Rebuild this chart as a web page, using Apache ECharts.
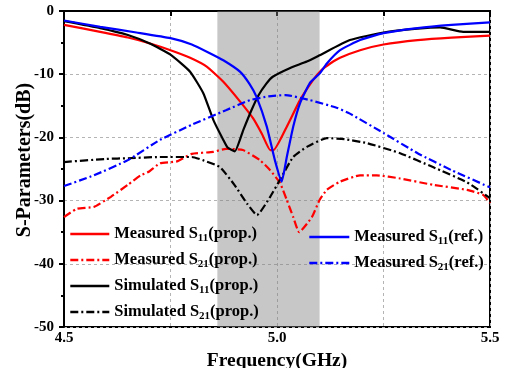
<!DOCTYPE html>
<html>
<head>
<meta charset="utf-8">
<script src="https://cdn.jsdelivr.net/npm/echarts@6/dist/echarts.min.js"></script>
<style>
  html, body { margin: 0; padding: 0; background: #fff; }
  #chart { width: 510px; height: 368px; }
</style>
</head>
<body>
<div id="chart"></div>
<script>
// Measured S11 of the proposed design
const freqMeasS11Prop = [4.50, 4.585, 4.65, 4.70, 4.75, 4.796, 4.835, 4.874, 4.913, 4.944, 4.965, 4.984, 4.992, 5.023, 5.054, 5.085, 5.105, 5.125, 5.148, 5.195, 5.25, 5.33, 5.41, 5.50];
const valMeasS11Prop  = [-2.2, -3.3, -4.2, -5.1, -6.2, -7.4, -8.8, -11.2, -14.3, -17.0, -19.5, -22.0, -22.0, -18.3, -14.1, -10.9, -9.3, -8.3, -7.4, -6.2, -5.3, -4.6, -4.2, -3.9];

// Measured S21 of the proposed design
const freqMeasS21Prop = [4.50, 4.53, 4.57, 4.61, 4.65, 4.68, 4.70, 4.725, 4.765, 4.80, 4.85, 4.88, 4.92, 4.96, 4.984, 5.007, 5.023, 5.038, 5.052, 5.082, 5.10, 5.117, 5.148, 5.195, 5.234, 5.289, 5.366, 5.446, 5.484, 5.50];
const valMeasS21Prop  = [-32.6, -31.3, -31.0, -29.4, -27.5, -26.0, -25.4, -24.1, -23.8, -22.6, -22.3, -21.8, -22.0, -23.6, -25.2, -27.2, -29.9, -32.6, -35.0, -32.6, -29.9, -28.3, -27.0, -26.0, -26.0, -26.5, -27.5, -28.3, -29.1, -30.4];

// Simulated S11 of the proposed design
const freqSimS11Prop = [4.50, 4.585, 4.65, 4.70, 4.75, 4.796, 4.827, 4.851, 4.874, 4.884, 4.901, 4.921, 4.94, 4.956, 4.975, 4.99, 5.031, 5.07, 5.10, 5.171, 5.25, 5.33, 5.383, 5.437, 5.50];
const valSimS11Prop  = [-1.6, -2.7, -3.8, -5.1, -6.9, -9.6, -13.0, -17.3, -20.4, -21.6, -22.2, -18.8, -15.7, -13.4, -11.5, -10.4, -9.0, -8.0, -7.0, -4.6, -3.4, -2.8, -2.6, -3.3, -3.3];

// Simulated S21 of the proposed design
const freqSimS21Prop = [4.50, 4.60, 4.65, 4.725, 4.80, 4.826, 4.866, 4.90, 4.93, 4.953, 4.984, 5.007, 5.038, 5.07, 5.117, 5.16, 5.211, 5.289, 5.366, 5.446, 5.50];
const valSimS21Prop  = [-23.9, -23.4, -23.3, -23.1, -23.1, -23.6, -24.7, -27.5, -30.5, -32.3, -29.4, -26.7, -23.1, -21.5, -20.1, -20.3, -20.9, -22.5, -24.7, -27.1, -29.6];

// Measured S11 of the reference design
const freqMeasS11Ref = [4.50, 4.585, 4.67, 4.75, 4.80, 4.84, 4.874, 4.913, 4.935, 4.952, 4.976, 4.995, 5.011, 5.023, 5.038, 5.054, 5.077, 5.10, 5.117, 5.148, 5.195, 5.25, 5.33, 5.41, 5.50];
const valMeasS11Ref  = [-1.5, -2.5, -3.4, -4.3, -5.3, -6.6, -7.8, -9.6, -11.5, -13.6, -18.3, -23.6, -27.0, -23.1, -18.3, -14.6, -11.4, -9.9, -8.3, -6.2, -4.6, -3.5, -2.7, -2.2, -1.8];

// Measured S21 of the reference design
const freqMeasS21Ref = [4.50, 4.57, 4.65, 4.725, 4.80, 4.88, 4.937, 4.98, 5.02, 5.077, 5.14, 5.17, 5.25, 5.33, 5.41, 5.50];
const valMeasS21Ref  = [-27.7, -26.0, -23.6, -20.4, -18.0, -15.7, -14.1, -13.5, -13.3, -14.1, -15.3, -16.2, -19.3, -22.5, -25.2, -27.9];

// Shaded operating band (GHz)
const bandRange = [4.86, 5.10];

const xTicks = [4.5, 5.0, 5.5];

const pair = (xs, ys) => xs.map((x, i) => [x, ys[i]]);

const FONT = '"Liberation Serif", "Times New Roman", serif';
const dashDot = [8, 3, 2, 3];

function lineSeries(name, xs, ys, color, dashed) {
  return {
    name: name,
    type: 'line',
    data: pair(xs, ys),
    symbol: 'none',
    smooth: 0.15,
    lineStyle: { color: color, width: 2.2, type: dashed ? dashDot : 'solid' },
    itemStyle: { color: color },
    z: 3
  };
}

const series = [
  lineSeries('Measured S11(prop.)', freqMeasS11Prop, valMeasS11Prop, '#ff0000', false),
  lineSeries('Measured S21(prop.)', freqMeasS21Prop, valMeasS21Prop, '#ff0000', true),
  lineSeries('Simulated S11(prop.)', freqSimS11Prop, valSimS11Prop, '#000000', false),
  lineSeries('Simulated S21(prop.)', freqSimS21Prop, valSimS21Prop, '#000000', true),
  lineSeries('Measured S11(ref.)', freqMeasS11Ref, valMeasS11Ref, '#0000ff', false),
  lineSeries('Measured S21(ref.)', freqMeasS21Ref, valMeasS21Ref, '#0000ff', true)
];

series[0].markArea = {
  silent: true,
  itemStyle: { color: 'rgba(128,128,128,0.44)' },
  data: [[{ xAxis: bandRange[0] }, { xAxis: bandRange[1] }]]
};

function legendLabel(name) {
  const m = name.match(/^(.*S)(\d\d)(.*)$/);
  return '{t|' + m[1] + '}{s|' + m[2] + '}{t|' + m[3] + '}';
}

const legendText = {
  color: '#000',
  rich: {
    t: { fontFamily: FONT, fontWeight: 'bold', fontSize: 16.5, lineHeight: 19, color: '#000' },
    s: { fontFamily: FONT, fontWeight: 'bold', fontSize: 11, lineHeight: 19, verticalAlign: 'bottom', color: '#000' }
  }
};

// line-only legend keys (no marker dot)
const legendItemStyle = { color: 'rgba(0,0,0,0)', borderWidth: 0 };
const legendLineStyle = { width: 2.6 };

const chart = echarts.init(document.getElementById('chart'), null, { renderer: 'canvas' });

chart.setOption({
  animation: false,
  backgroundColor: '#ffffff',
  grid: {
    left: 64, right: 20, top: 11, bottom: 41,
    outerBoundsMode: 'none',
    containLabel: false,
    show: true, borderColor: '#000', borderWidth: 2, backgroundColor: 'transparent'
  },
  legend: [
    {
      orient: 'vertical', left: 69, top: 225.5, padding: 0,
      itemWidth: 39, itemHeight: 14, itemGap: 8,
      itemStyle: legendItemStyle,
      lineStyle: legendLineStyle,
      data: ['Measured S11(prop.)', 'Measured S21(prop.)', 'Simulated S11(prop.)', 'Simulated S21(prop.)'],
      formatter: legendLabel,
      textStyle: legendText
    },
    {
      orient: 'vertical', left: 308, top: 228.5, padding: 0,
      itemWidth: 40, itemHeight: 14, itemGap: 8,
      itemStyle: legendItemStyle,
      lineStyle: legendLineStyle,
      data: ['Measured S11(ref.)', 'Measured S21(ref.)'],
      formatter: legendLabel,
      textStyle: legendText
    }
  ],
  xAxis: {
    type: 'value', min: 4.5, max: 5.5, interval: 0.25,
    axisLine: { show: true, lineStyle: { color: '#000', width: 2 } },
    axisTick: { show: true, length: 5, lineStyle: { color: '#000', width: 2 } },
    axisLabel: {
      margin: 4,
      fontFamily: FONT, fontWeight: 'bold', fontSize: 15, color: '#000',
      formatter: v => xTicks.some(t => Math.abs(t - v) < 1e-6) ? v.toFixed(1) : ''
    },
    splitLine: { show: true, lineStyle: { color: '#b4b4b4', width: 1, type: [3, 3] } },
    name: 'Frequency(GHz)',
    nameLocation: 'middle', nameGap: 18,
    nameTextStyle: { fontFamily: FONT, fontWeight: 'bold', fontSize: 19.5, color: '#000' }
  },
  yAxis: {
    type: 'value', min: -50, max: 0, interval: 10,
    axisLine: { show: true, lineStyle: { color: '#000', width: 2 } },
    axisTick: { show: true, length: 5, lineStyle: { color: '#000', width: 2 } },
    minorTick: { show: true, splitNumber: 2, length: 3, lineStyle: { color: '#000', width: 2 } },
    axisLabel: { margin: 10, fontFamily: FONT, fontWeight: 'bold', fontSize: 15, color: '#000' },
    splitLine: { show: true, lineStyle: { color: '#b4b4b4', width: 1, type: [3, 3] } }
  },
  graphic: [
    {
      type: 'text', x: 25, y: 160, rotation: Math.PI / 2,
      style: {
        text: 'S-Parameters(dB)', fill: '#000',
        font: 'bold 20px ' + FONT, align: 'center', verticalAlign: 'middle'
      }
    }
  ],
  series: series
});
</script>
</body>
</html>
